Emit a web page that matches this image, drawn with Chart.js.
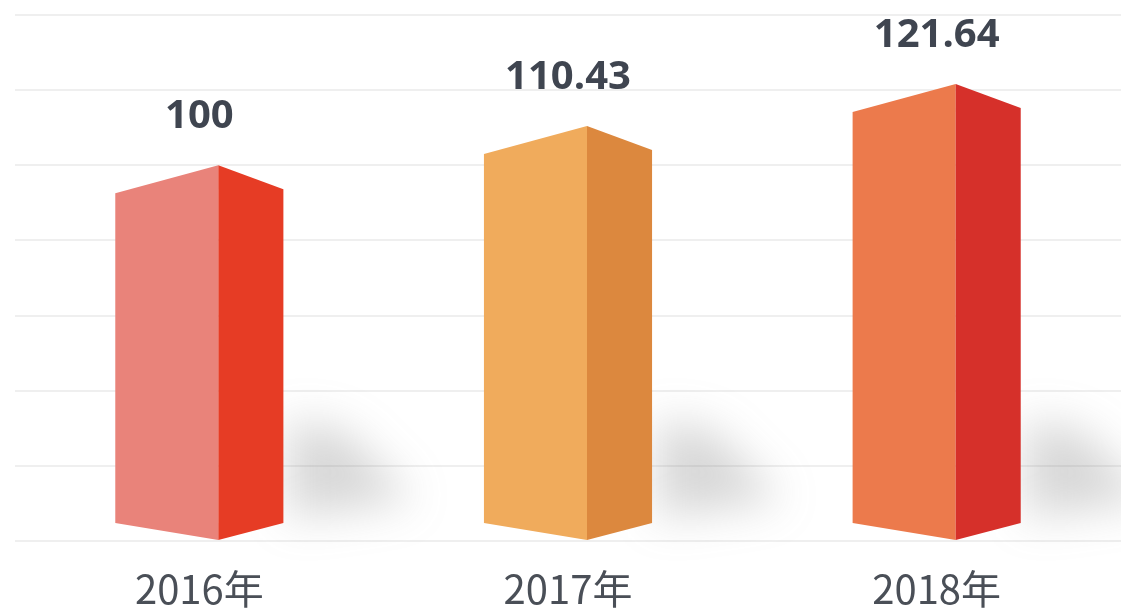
<!DOCTYPE html>
<html>
<head>
<meta charset="utf-8">
<script src="https://cdn.jsdelivr.net/npm/chart.js@4/dist/chart.umd.min.js"></script>
<style>
  html, body { margin: 0; padding: 0; background: #fff; }
  #wrap { width: 1121px; height: 613px; }
</style>
</head>
<body>
<div id="wrap"><canvas id="barChart"></canvas></div>
<script>
// datos del grafico
const years = ['2016年', '2017年', '2018年'];
const values = [100, 110.43, 121.64];
const valueLabels = ['100', '110.43', '121.64'];
const leftColors = ['#e9837a', '#f0ab5c', '#ec7a4c'];
const rightColors = ['#e63c25', '#dc883e', '#d6302a'];

// dibuja las barras como prismas (cara izquierda clara, derecha oscura)
const prismPlugin = {
  id: 'prism',
  beforeDatasetsDraw(chart) {
    const ctx = chart.ctx;
    chart.getDatasetMeta(0).data.forEach(function(el) {
      const p = el.getProps(['x', 'y', 'base', 'width'], true);
      const right = p.x + p.width / 2;
      ctx.save();
      ctx.filter = 'blur(22px)';
      ctx.fillStyle = 'rgba(110,110,110,0.28)';
      ctx.beginPath();
      ctx.moveTo(right + 5, p.base - 120);
      ctx.lineTo(right + 60, p.base - 110);
      ctx.lineTo(right + 130, p.base - 40);
      ctx.lineTo(right + 5, p.base - 22);
      ctx.closePath();
      ctx.fill();
      ctx.restore();
    });
  },
  afterDatasetsDraw(chart) {
    const ctx = chart.ctx;
    chart.getDatasetMeta(0).data.forEach(function(el, i) {
      const p = el.getProps(['x', 'y', 'base', 'width'], true);
      const left = p.x - p.width / 2;
      const right = p.x + p.width / 2;
      const mid = left + p.width * 0.613;
      // cara izquierda
      ctx.fillStyle = leftColors[i];
      ctx.beginPath();
      ctx.moveTo(left, p.y + 28);
      ctx.lineTo(mid, p.y);
      ctx.lineTo(mid, p.base);
      ctx.lineTo(left, p.base - 17);
      ctx.closePath();
      ctx.fill();
      // cara derecha
      ctx.fillStyle = rightColors[i];
      ctx.beginPath();
      ctx.moveTo(mid, p.y);
      ctx.lineTo(right, p.y + 24);
      ctx.lineTo(right, p.base - 17);
      ctx.lineTo(mid, p.base);
      ctx.closePath();
      ctx.fill();
      // etiqueta de valor
      ctx.fillStyle = '#3f4550';
      ctx.font = 'bold 40px "Open Sans", "Noto Sans", sans-serif';
      ctx.textAlign = 'center';
      ctx.textBaseline = 'alphabetic';
      ctx.fillText(valueLabels[i], p.x, p.y - 37);
    });
  }
};

const ctx = document.getElementById('barChart').getContext('2d');
new Chart(ctx, {
  type: 'bar',
  data: {
    labels: years,
    datasets: [{
      data: values,
      backgroundColor: 'rgba(0,0,0,0)',
      borderWidth: 0,
      categoryPercentage: 1,
      barPercentage: 0.456
    }]
  },
  options: {
    responsive: true,
    maintainAspectRatio: false,
    animation: false,
    layout: {
      padding: { left: 15, right: 0, top: 15, bottom: -24 }
    },
    plugins: {
      legend: { display: false },
      tooltip: { enabled: false }
    },
    scales: {
      y: {
        min: 0,
        max: 140,
        ticks: { display: false, stepSize: 20 },
        border: { display: false },
        grid: { color: '#efefef', lineWidth: 2, drawTicks: false }
      },
      x: {
        ticks: {
          color: '#4a4f57',
          padding: 28,
          font: { size: 40, lineHeight: 1, family: '"Noto Sans CJK SC", "Open Sans", sans-serif' }
        },
        border: { display: false },
        grid: { display: false, drawTicks: false }
      }
    }
  },
  plugins: [prismPlugin]
});
</script>
</body>
</html>
